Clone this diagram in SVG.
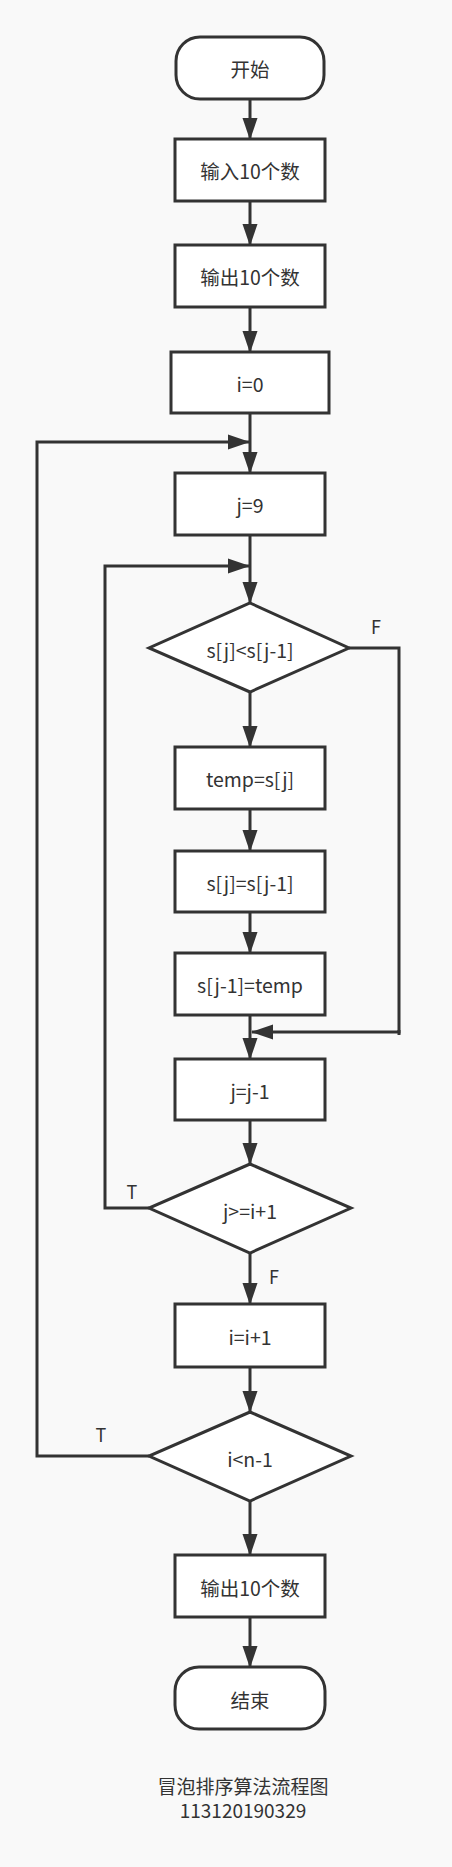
<svg xmlns="http://www.w3.org/2000/svg" width="452" height="1867" viewBox="0 0 452 1867">
<defs>
<marker id="arr" markerUnits="userSpaceOnUse" markerWidth="22" markerHeight="16" refX="21" refY="8" orient="auto">
<path d="M0,0.5 L22,8 L0,15.5 z" fill="#333"/>
</marker>
<style>
.n{fill:#fff;stroke:#333;stroke-width:3}
.t{font-family:"Microsoft YaHei","Noto Sans CJK SC",sans-serif;font-size:19.5px;fill:#333;text-anchor:middle;dominant-baseline:central}
.c{fill:none;stroke:#333;stroke-width:3;marker-end:url(#arr)}
.p{fill:none;stroke:#333;stroke-width:3}
.l{font-family:"Microsoft YaHei","Noto Sans CJK SC",sans-serif;font-size:18px;fill:#333;text-anchor:middle;dominant-baseline:central}
.h{font-family:"Microsoft YaHei","Noto Sans CJK SC",sans-serif;font-size:19px;fill:#333;text-anchor:middle;dominant-baseline:central}
</style>
</defs>
<rect width="452" height="1867" fill="#f9f9f9"/>
<g id="connectors">
<path class="c" d="M250,99 V139"/>
<path class="c" d="M250,201 V245"/>
<path class="c" d="M250,307 V352"/>
<path class="c" d="M250,413 V473"/>
<path class="c" d="M149,1456 H37 V442 H249"/>
<path class="c" d="M250,535 V603"/>
<path class="c" d="M149,1208 H105 V566 H249"/>
<path class="c" d="M250,692 V747"/>
<path class="c" d="M250,809 V851"/>
<path class="c" d="M250,912 V953"/>
<path class="c" d="M250,1015 V1059"/>
<path class="c" d="M349,648 H399 V1032 H252"/>
<path class="p" d="M399,1030 V1035"/>
<path class="c" d="M250,1120 V1164"/>
<path class="c" d="M250,1253 V1304"/>
<path class="c" d="M250,1367 V1412"/>
<path class="c" d="M250,1501 V1555"/>
<path class="c" d="M250,1617 V1667"/>
<text class="l" x="376" y="626">F</text>
<text class="l" x="132" y="1191">T</text>
<text class="l" x="274" y="1276">F</text>
<text class="l" x="101" y="1434">T</text>
</g>
<g id="start"><rect class="n" x="176" y="37" width="148" height="62" rx="24"/><text class="t" x="250" y="68">开始</text></g>
<g id="input"><rect class="n" x="175" y="139" width="150" height="62"/><text class="t" x="250" y="170">输入10个数</text></g>
<g id="output1"><rect class="n" x="175" y="245" width="150" height="62"/><text class="t" x="250" y="276">输出10个数</text></g>
<g id="i0"><rect class="n" x="171" y="352" width="158" height="61"/><text class="t" x="250" y="383">i=0</text></g>
<g id="j9"><rect class="n" x="175" y="473" width="150" height="62"/><text class="t" x="250" y="504">j=9</text></g>
<g id="cmp"><polygon class="n" points="250,603 349,648 250,692 149,648"/><text class="t" x="250" y="649">s[j]&lt;s[j-1]</text></g>
<g id="temp"><rect class="n" x="175" y="747" width="150" height="62"/><text class="t" x="250" y="778">temp=s[j]</text></g>
<g id="swap1"><rect class="n" x="175" y="851" width="150" height="61"/><text class="t" x="250" y="882">s[j]=s[j-1]</text></g>
<g id="swap2"><rect class="n" x="175" y="953" width="150" height="62"/><text class="t" x="250" y="984">s[j-1]=temp</text></g>
<g id="jdec"><rect class="n" x="175" y="1059" width="150" height="61"/><text class="t" x="250" y="1090">j=j-1</text></g>
<g id="jcond"><polygon class="n" points="250,1164 351,1208 250,1253 149,1208"/><text class="t" x="250" y="1210">j&gt;=i+1</text></g>
<g id="iinc"><rect class="n" x="175" y="1304" width="150" height="63"/><text class="t" x="250" y="1336">i=i+1</text></g>
<g id="icond"><polygon class="n" points="250,1412 351,1456 250,1501 149,1456"/><text class="t" x="250" y="1458">i&lt;n-1</text></g>
<g id="output2"><rect class="n" x="175" y="1555" width="150" height="62"/><text class="t" x="250" y="1587">输出10个数</text></g>
<g id="end"><rect class="n" x="175" y="1667" width="150" height="62" rx="24"/><text class="t" x="250" y="1699">结束</text></g>
<g id="title">
<text class="h" x="243" y="1785">冒泡排序算法流程图</text>
<text class="h" x="243" y="1809">113120190329</text>
</g>
</svg>
